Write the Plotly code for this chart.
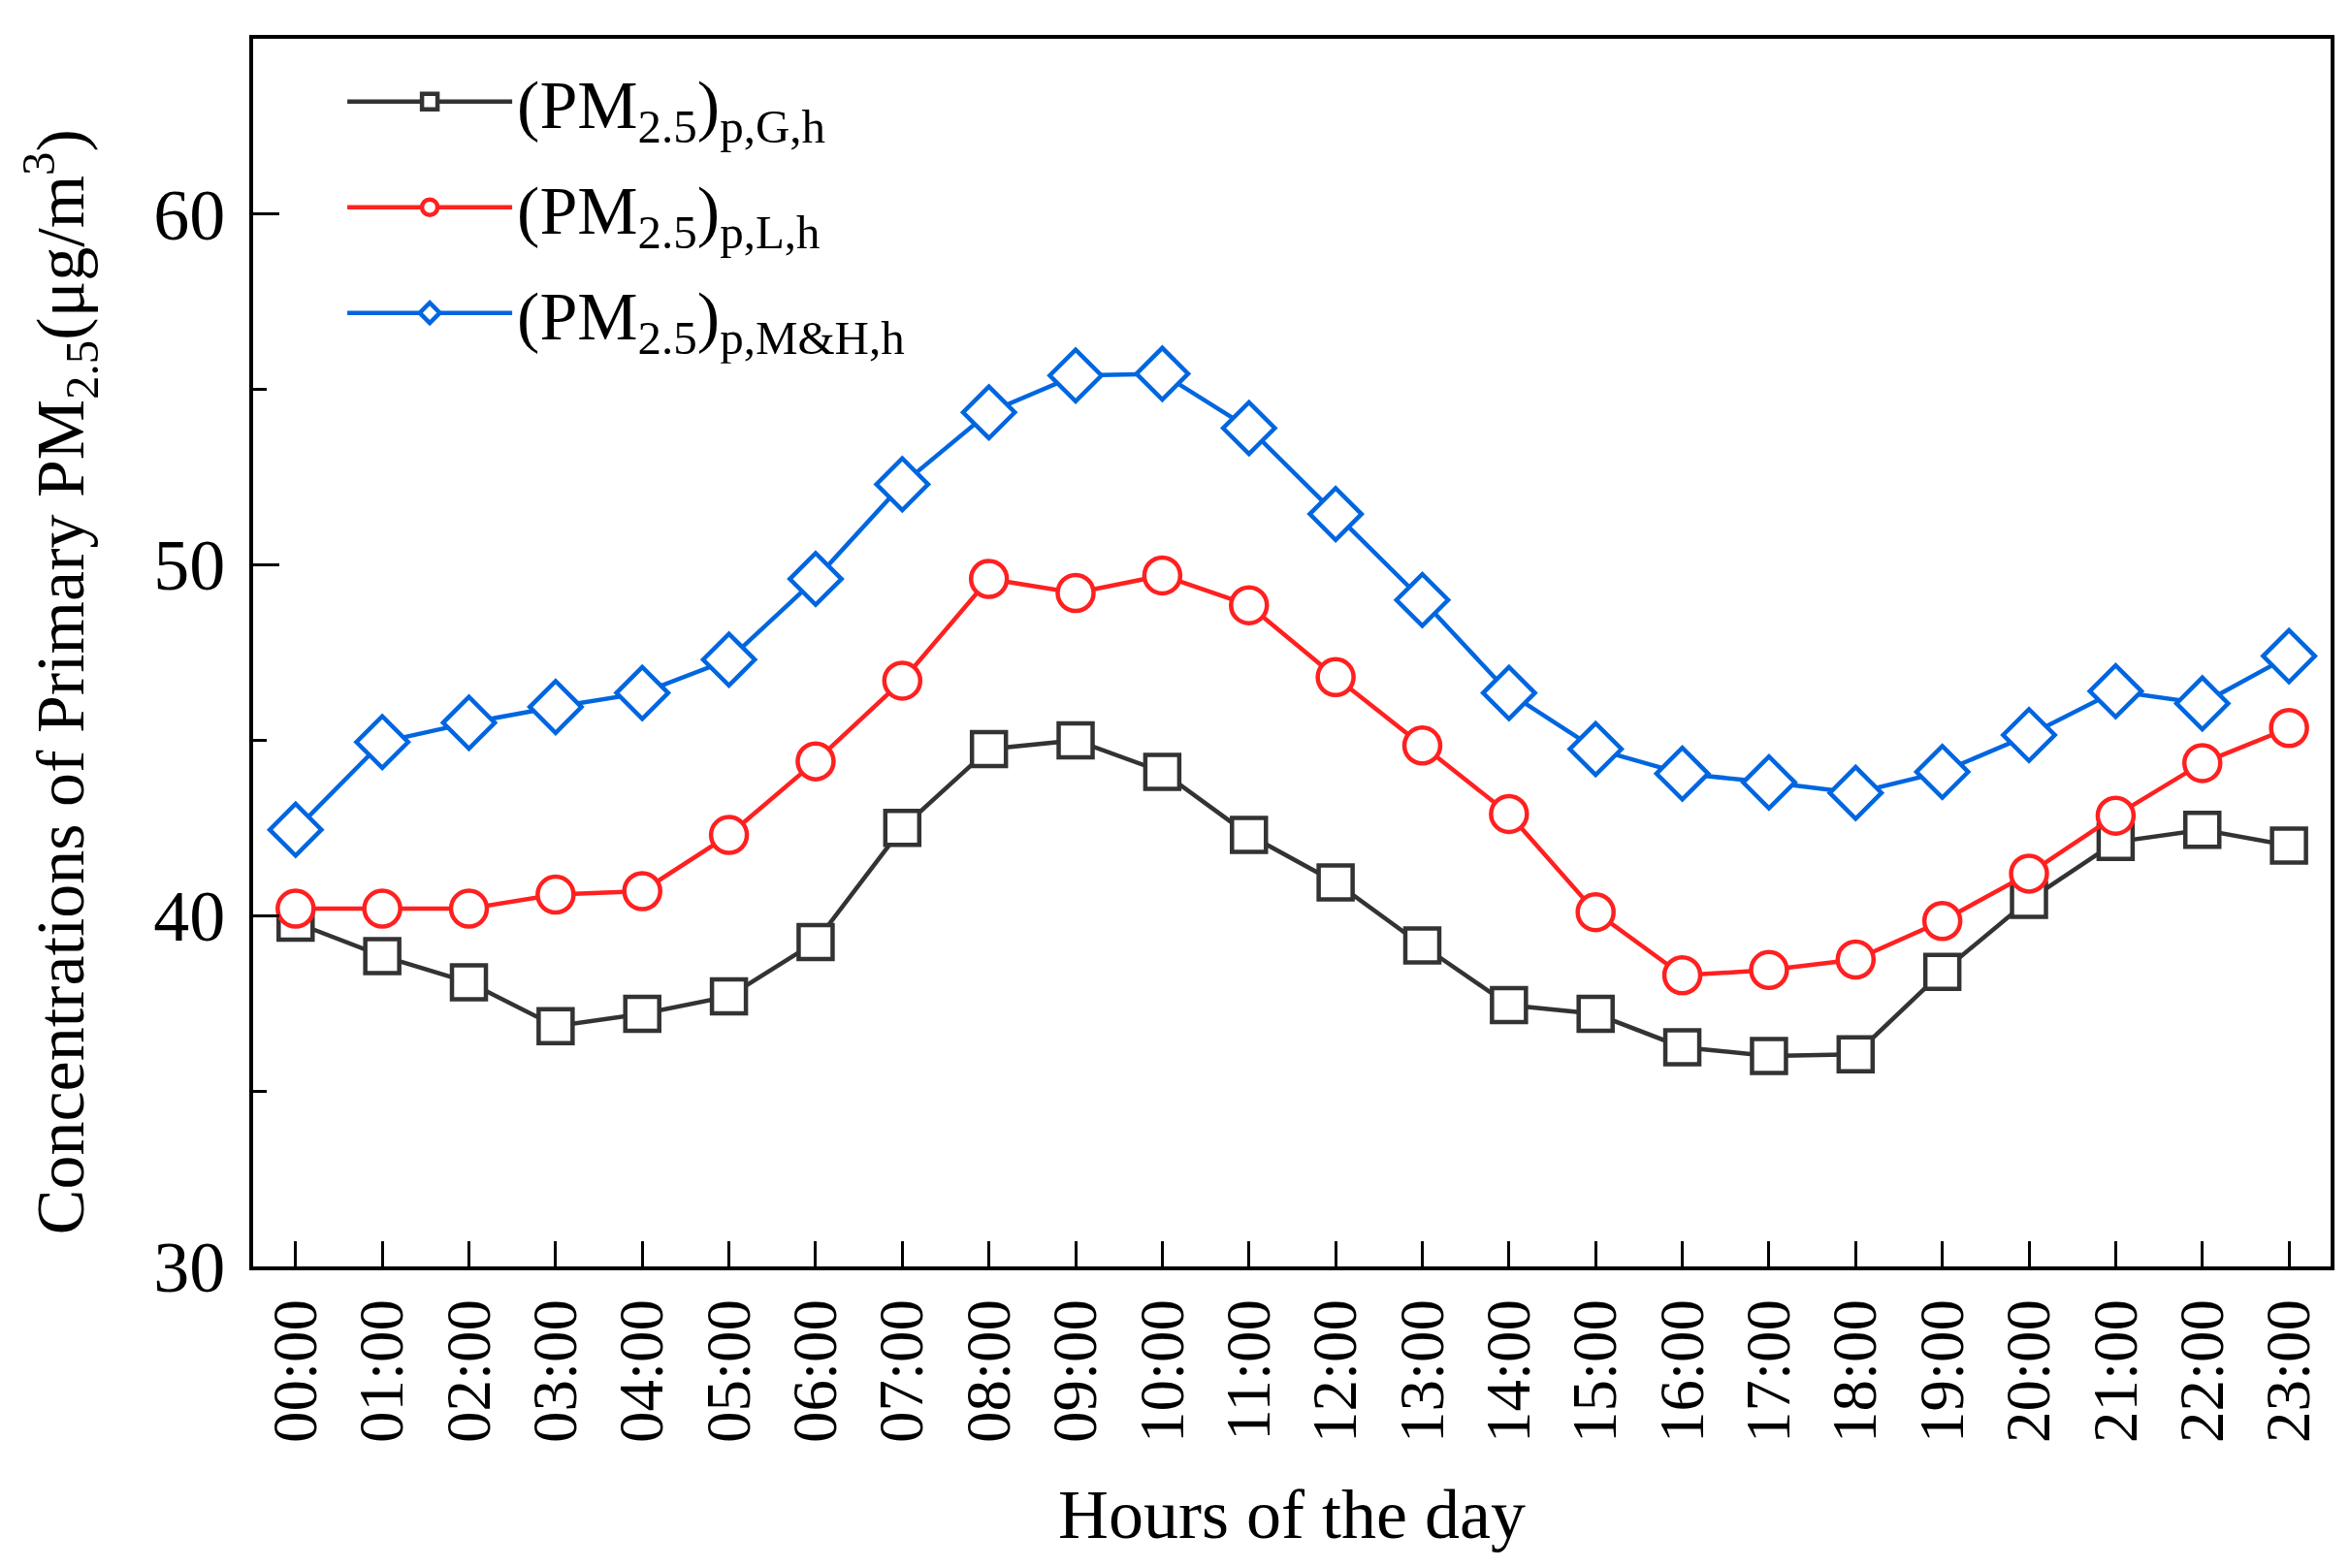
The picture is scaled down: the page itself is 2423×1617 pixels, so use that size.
import plotly.graph_objects as go

hours = ["00:00", "01:00", "02:00", "03:00", "04:00", "05:00", "06:00", "07:00",
         "08:00", "09:00", "10:00", "11:00", "12:00", "13:00", "14:00", "15:00",
         "16:00", "17:00", "18:00", "19:00", "20:00", "21:00", "22:00", "23:00"]

pm_g = [39.8, 38.85, 38.1, 36.85, 37.2, 37.7, 39.25, 42.5, 44.75, 45.0, 44.1, 42.3,
        40.95, 39.15, 37.45, 37.2, 36.25, 36.0, 36.05, 38.4, 40.45, 42.1, 42.45, 42.0]

pm_l = [40.2, 40.2, 40.2, 40.6, 40.7, 42.3, 44.4, 46.7, 49.6, 49.2, 49.7, 48.85,
        46.8, 44.85, 42.9, 40.1, 38.3, 38.45, 38.75, 39.85, 41.2, 42.85, 44.35, 45.35]

pm_mh = [42.45, 44.95, 45.5, 45.95, 46.35, 47.3, 49.6, 52.3, 54.35, 55.4, 55.45, 53.9,
         51.45, 49.0, 46.35, 44.75, 44.05, 43.8, 43.5, 44.1, 45.15, 46.4, 46.05, 47.4]

names = ["(PM<sub>2.5</sub>)<sub>p,G,h</sub>",
         "(PM<sub>2.5</sub>)<sub>p,L,h</sub>",
         "(PM<sub>2.5</sub>)<sub>p,M&H,h</sub>"]

y_title = "Concentrations of Primary PM<sub>2.5</sub>(μg/m<sup>3</sup>)"
x_title = "Hours of the day"

FONT = "Liberation Serif, Times New Roman, serif"

fig = go.Figure()
series = [
    (pm_g, names[0], "#333333", "square", 35),
    (pm_l, names[1], "#FF2020", "circle", 37),
    (pm_mh, names[2], "#0066E0", "diamond", 41),
]
for i, (vals, nm, col, sym, sz) in enumerate(series):
    fig.add_trace(go.Scatter(
        x=list(range(len(hours))), y=vals, name=nm, mode="lines+markers",
        legendgroup=f"g{i}",
        line=dict(color=col, width=4.5),
        marker=dict(symbol=sym, size=sz, color="white",
                    line=dict(color=col, width=4.5)),
    ))

fig.update_layout(
    width=2423, height=1617,
    paper_bgcolor="white", plot_bgcolor="white",
    margin=dict(l=253, r=28, t=32, b=319),
    font=dict(family=FONT, size=64, color="black"),
    showlegend=True,
    legend=dict(x=0.043, y=0.99, xanchor="left", yanchor="top",
                bgcolor="rgba(0,0,0,0)", font=dict(family=FONT, size=70),
                tracegroupgap=15, itemwidth=170),
    annotations=[dict(
        text=y_title, textangle=-90, xref="paper", yref="paper",
        x=-0.093, y=0.476, xanchor="center", yanchor="middle",
        showarrow=False, borderpad=0,
        font=dict(family=FONT, size=70, color="black"),
    )],
)

fig.update_xaxes(
    range=[-0.49, 23.48],
    tickmode="array", tickvals=list(range(len(hours))), ticktext=hours,
    tickangle=-90,
    ticks="inside", ticklen=26, tickwidth=3, tickcolor="black",
    showline=True, linewidth=4, linecolor="black", mirror=True,
    showgrid=False, zeroline=False,
    tickfont=dict(family=FONT, size=65),
    ticklabelstandoff=4,
    title=dict(text=x_title, font=dict(family=FONT, size=72), standoff=50),
)

fig.update_yaxes(
    range=[30, 65],
    tickmode="array", tickvals=[30, 40, 50, 60],
    ticks="inside", ticklen=27, tickwidth=3, tickcolor="black",
    minor=dict(tickvals=[35, 45, 55], ticks="inside", ticklen=14, tickwidth=3, tickcolor="black"),
    showline=True, linewidth=4, linecolor="black", mirror=True,
    showgrid=False, zeroline=False,
    tickfont=dict(family=FONT, size=74),
    ticklabelstandoff=10,
)

fig.write_html("out.html")
